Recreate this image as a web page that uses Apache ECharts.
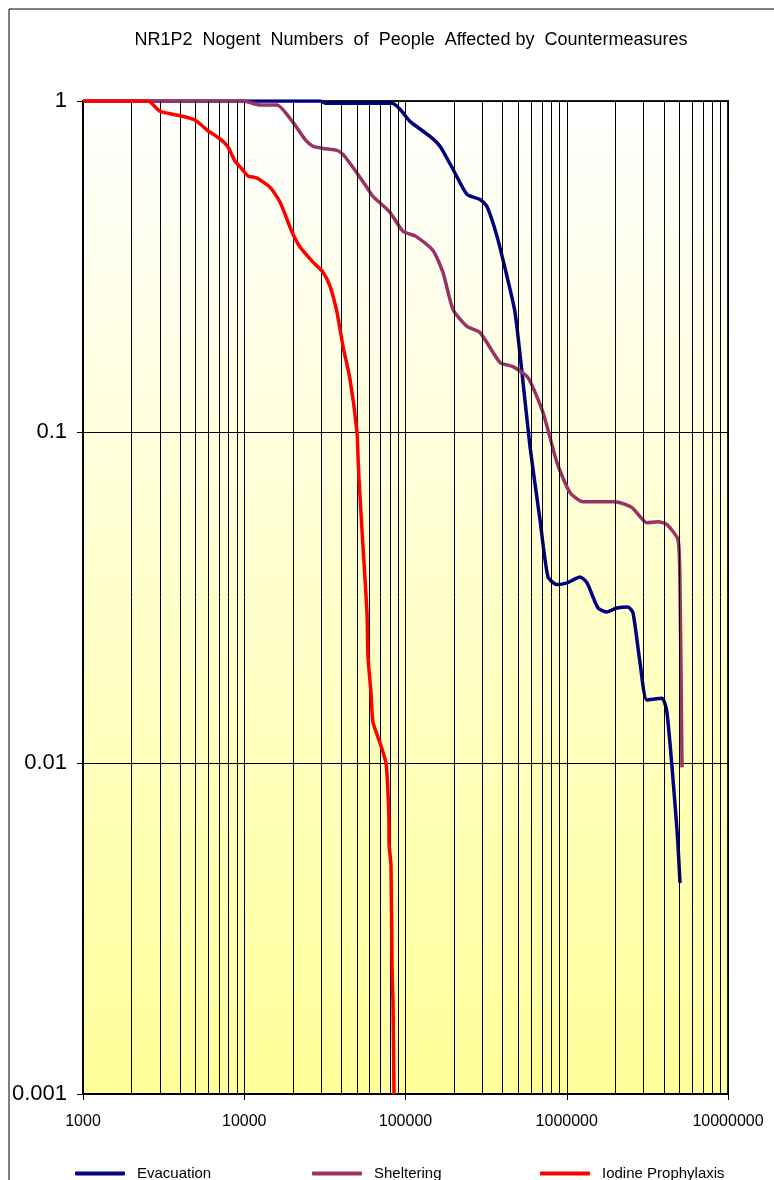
<!DOCTYPE html>
<html>
<head>
<meta charset="utf-8">
<script src="https://cdn.jsdelivr.net/npm/echarts@6/dist/echarts.min.js"></script>
<style>
  html, body { margin: 0; padding: 0; background: #fff; }
  #main { width: 774px; height: 1180px; }
</style>
</head>
<body>
<div id="main"></div>
<script>
let chartDom = document.getElementById('main');
let myChart = echarts.init(chartDom);
let option;

// number of people (x) vs fraction affected (y)
const evacuationX = [1000, 29500, 32100, 82500, 92500, 106600, 141900, 163700, 197000, 240600, 289700, 320200, 369400, 426100, 477700, 527900, 591700, 682500, 765000, 869900, 1004000, 1208000, 1336000, 1562000, 1777000, 2049000, 2398000, 2576000, 2847000, 3145000, 3896000, 4185000, 4827000, 5039000];
const evacuationY = [1, 1, 0.984, 0.984, 0.944, 0.868, 0.782, 0.730, 0.622, 0.522, 0.504, 0.480, 0.390, 0.295, 0.230, 0.151, 0.0903, 0.0543, 0.0365, 0.0346, 0.0350, 0.0365, 0.0350, 0.0294, 0.0286, 0.0294, 0.0296, 0.0284, 0.0201, 0.0155, 0.0157, 0.0142, 0.00628, 0.00434];

const shelteringX = [1000, 9820, 12520, 15960, 20060, 23810, 26700, 30790, 37610, 40960, 47250, 57700, 62850, 80140, 96490, 116200, 148100, 170900, 197000, 240600, 289700, 385500, 464100, 575000, 712200, 869900, 1047600, 1261000, 1992000, 2539000, 3145000, 3680000, 4185000, 4897000, 5039000, 5185000];
const shelteringY = [1, 1, 0.973, 0.973, 0.862, 0.766, 0.730, 0.719, 0.709, 0.690, 0.630, 0.548, 0.515, 0.461, 0.404, 0.390, 0.3535, 0.303, 0.2345, 0.2084, 0.1998, 0.1622, 0.1576, 0.146, 0.1145, 0.0808, 0.0656, 0.0616, 0.0616, 0.0591, 0.0532, 0.0536, 0.0525, 0.0473, 0.0341, 0.0097];

const iodineX = [1000, 2530, 3000, 4000, 4950, 5960, 7070, 7930, 8760, 9680, 10550, 12000, 14440, 16660, 19780, 22170, 26700, 30790, 34020, 37610, 40960, 45280, 50030, 50750, 51480, 54500, 57700, 58530, 61090, 62850, 69500, 75690, 77900, 79010, 79010, 81300, 82500, 83650, 84850];
const iodineY = [1, 1, 0.931, 0.903, 0.876, 0.813, 0.768, 0.726, 0.659, 0.623, 0.594, 0.585, 0.549, 0.495, 0.402, 0.362, 0.326, 0.304, 0.276, 0.230, 0.1815, 0.1443, 0.1, 0.0844, 0.0719, 0.0451, 0.0285, 0.021, 0.0163, 0.0133, 0.0115, 0.01, 0.0081, 0.0063, 0.00575, 0.0049, 0.0024, 0.0019, 0.001];

// vertical minor grid lines (2..9 in each decade)
const minorX = [];
[1000, 10000, 100000, 1000000].forEach(function (d) {
    for (let k = 2; k <= 9; k++) minorX.push(d * k);
});

function zip(xs, ys) {
    return xs.map(function (x, i) { return [x, ys[i]]; });
}

const legendText = { fontFamily: 'Liberation Sans', fontSize: 15, color: '#000', padding: [0, 0, 0, 7] };

option = {
    backgroundColor: '#fff',
    animation: false,
    title: {
        text: 'NR1P2  Nogent  Numbers  of  People  Affected by  Countermeasures',
        left: 406,
        textAlign: 'center',
        top: 26,
        textStyle: {
            fontFamily: 'Liberation Sans',
            fontWeight: 'normal',
            fontSize: 18,
            color: '#000'
        }
    },
    graphic: [{
        type: 'rect',
        shape: { x: 9, y: 9, width: 800, height: 1200 },
        style: { fill: 'none', stroke: '#000', lineWidth: 1 },
        silent: true
    }],
    legend: [
        { data: ['Evacuation'], left: 70, top: 1161, icon: 'roundRect', itemWidth: 50, itemHeight: 4, textStyle: legendText },
        { data: ['Sheltering'], left: 307, top: 1161, icon: 'roundRect', itemWidth: 50, itemHeight: 4, textStyle: legendText },
        { data: ['Iodine Prophylaxis'], left: 535, top: 1161, icon: 'roundRect', itemWidth: 50, itemHeight: 4, textStyle: legendText }
    ],
    grid: {
        left: 83,
        top: 101,
        width: 645,
        height: 993,
        show: true,
        borderColor: '#222',
        borderWidth: 2,
        backgroundColor: new echarts.graphic.LinearGradient(0, 0, 0, 1, [
            { offset: 0, color: '#ffffff' },
            { offset: 1, color: '#ffff99' }
        ])
    },
    xAxis: {
        type: 'log',
        logBase: 10,
        min: 1000,
        max: 10000000,
        axisLine: { show: true, lineStyle: { color: '#000', width: 2 } },
        axisTick: { show: true, length: 6, lineStyle: { color: '#000' } },
        axisLabel: {
            margin: 20,
            fontFamily: 'Liberation Sans',
            fontSize: 16,
            color: '#000',
            formatter: function (v) { return String(Math.round(v)); }
        },
        splitLine: { show: true, lineStyle: { color: '#000', width: 1 } },
        minorTick: { show: false },
        minorSplitLine: { show: false }
    },
    yAxis: {
        type: 'log',
        logBase: 10,
        min: 0.001,
        max: 1,
        axisLine: { show: true, lineStyle: { color: '#000', width: 2 } },
        axisTick: { show: true, length: 6, lineStyle: { color: '#000' } },
        axisLabel: {
            margin: 16,
            fontFamily: 'Liberation Sans',
            fontSize: 22,
            color: '#000',
            formatter: function (v) { return String(Number(Number(v).toPrecision(1))); }
        },
        splitLine: { show: true, lineStyle: { color: '#000', width: 1 } }
    },
    series: [
        {
            name: 'minor grid',
            type: 'line',
            data: [],
            z: 1,
            markLine: {
                silent: true,
                symbol: 'none',
                label: { show: false },
                lineStyle: { color: '#000', width: 1, type: 'solid' },
                data: minorX.map(function (v) { return { xAxis: v }; })
            }
        },
        {
            name: 'Evacuation',
            type: 'line',
            z: 3,
            showSymbol: false,
            symbol: 'none',
            smooth: 0.2,
            color: '#000080',
            lineStyle: { width: 3.5, color: '#000080' },
            data: zip(evacuationX, evacuationY)
        },
        {
            name: 'Sheltering',
            type: 'line',
            z: 4,
            showSymbol: false,
            symbol: 'none',
            smooth: 0.2,
            color: '#993366',
            lineStyle: { width: 3.5, color: '#993366' },
            data: zip(shelteringX, shelteringY)
        },
        {
            name: 'Iodine Prophylaxis',
            type: 'line',
            z: 5,
            showSymbol: false,
            symbol: 'none',
            smooth: 0.2,
            color: '#ff0000',
            lineStyle: { width: 3.5, color: '#ff0000' },
            data: zip(iodineX, iodineY)
        }
    ]
};

myChart.setOption(option);
</script>
</body>
</html>
